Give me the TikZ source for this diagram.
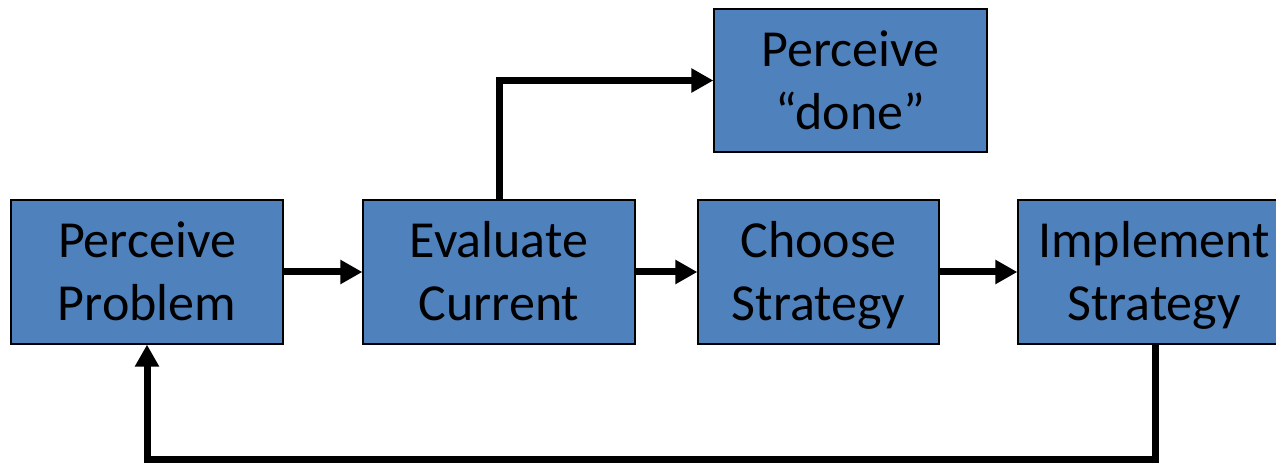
\documentclass[tikz,border=0pt]{standalone}
\usepackage{fontspec}
\setmainfont{Carlito}
\usetikzlibrary{arrows.meta}
% uniform line strut so every two-line label sits at the same height
\newcommand\lnstrut{\rule[-9pt]{0pt}{53pt}}
\begin{document}
\begin{tikzpicture}[x=1pt,y=1pt,
  stagebox/.style={rectangle, draw=black, line width=1.3pt, fill=boxblue,
    minimum height=144pt, inner sep=0pt, align=center,
    font=\fontsize{52}{63}\selectfont},
  flow/.style={line width=7pt, -{Triangle[width=23pt,length=22pt]}}]
  \definecolor{boxblue}{HTML}{4F81BD}
  \useasboundingbox (0,0) rectangle (1276,463);
  % main row of stages
  \node[stagebox, minimum width=272pt] (pp) at (147,191) {\lnstrut Perceive\\\lnstrut Problem};
  \node[stagebox, minimum width=272pt] (ev) at (499,191) {\lnstrut Evaluate\\\lnstrut Current};
  \node[stagebox, minimum width=241pt] (ch) at (818.5,191) {\lnstrut Choose\\\lnstrut Strategy};
  \node[stagebox, minimum width=272pt] (im) at (1154,191) {\lnstrut Implement\\\lnstrut Strategy};
  % exit stage
  \node[stagebox, minimum width=273pt, minimum height=143pt] (dn) at (850.5,382.5) {\lnstrut Perceive\\\lnstrut “done”};
  % connectors
  \draw[flow] (pp.east) -- (ev.west);
  \draw[flow] (ev.east) -- (ch.west);
  \draw[flow] (ch.east) -- (im.west);
  \draw[flow] (ev.north) |- (dn.west);
  \coordinate (fb) at (1155,3.5);
  \draw[flow] (im.south -| fb) -- (fb) -| (pp.south);
\end{tikzpicture}
\end{document}
